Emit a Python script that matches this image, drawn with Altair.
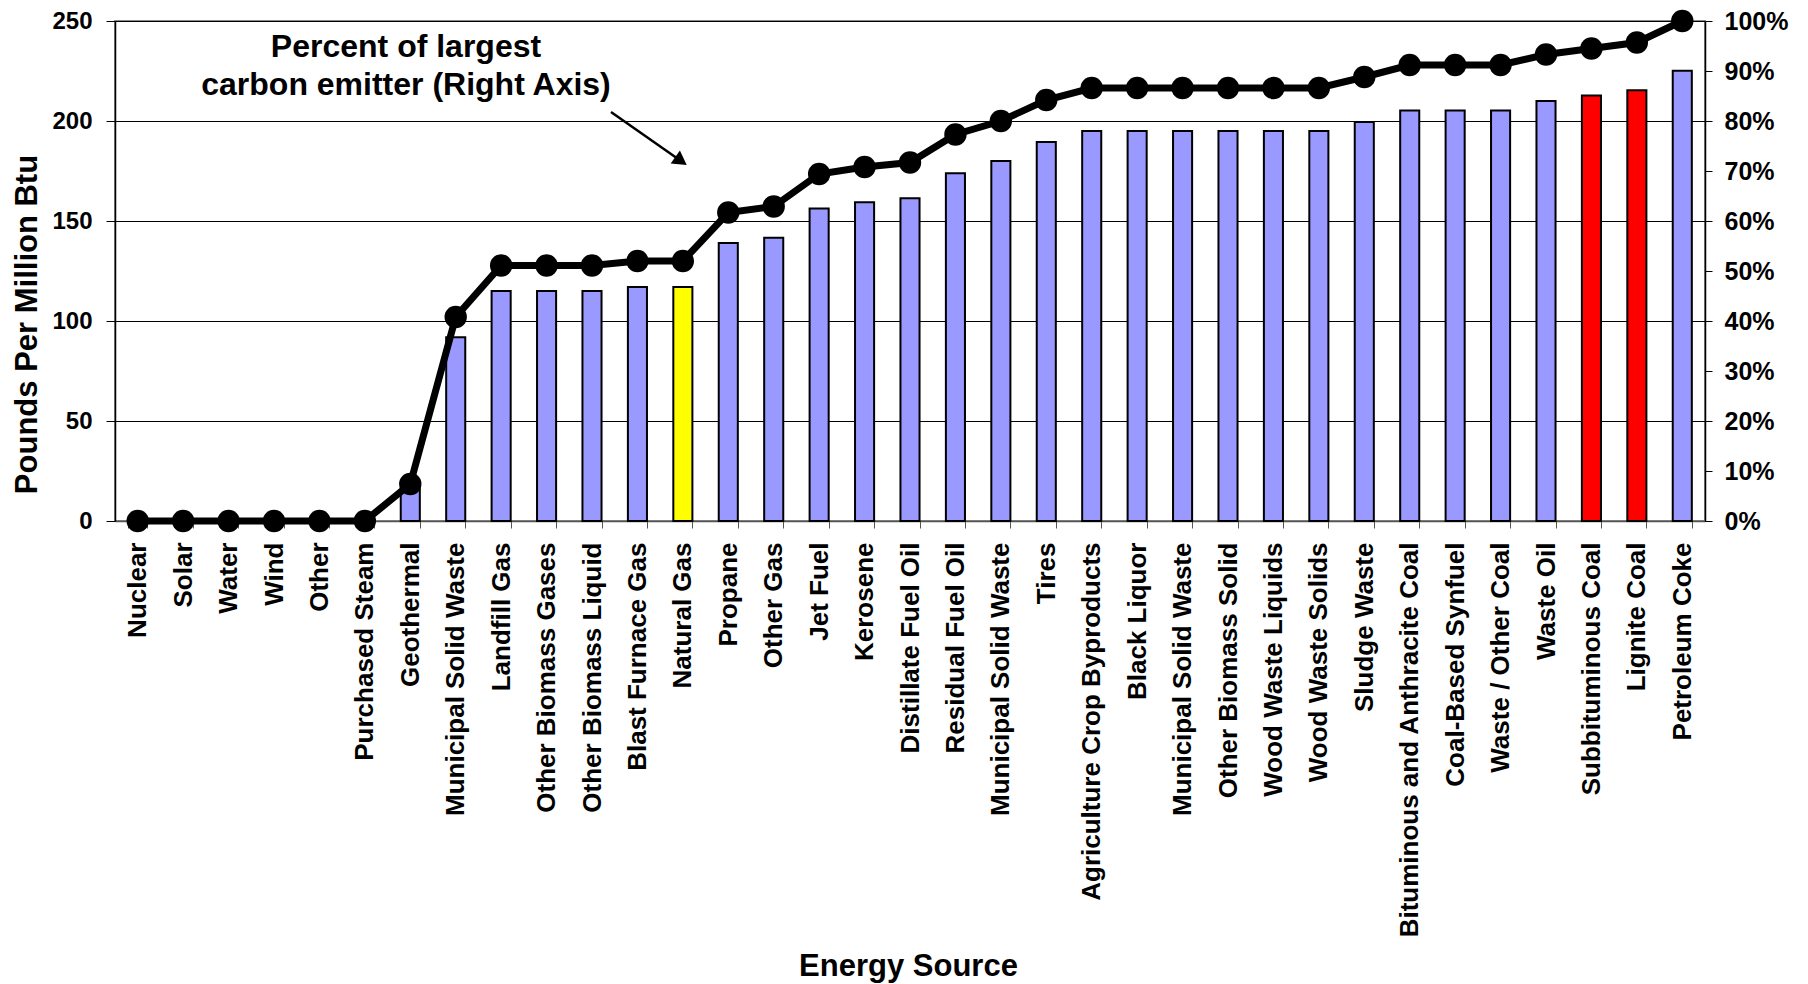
import altair as alt
import pandas as pd

# Energy sources, in order of increasing CO2 emission factor
sources = [
    "Nuclear", "Solar", "Water", "Wind", "Other", "Purchased Steam",
    "Geothermal", "Municipal Solid Waste", "Landfill Gas", "Other Biomass Gases",
    "Other Biomass Liquid", "Blast Furnace Gas", "Natural Gas", "Propane",
    "Other Gas", "Jet Fuel", "Kerosene", "Distillate Fuel Oil", "Residual Fuel Oil",
    "Municipal Solid Waste", "Tires", "Agriculture Crop Byproducts", "Black Liquor",
    "Municipal Solid Waste", "Other Biomass Solid", "Wood Waste Liquids",
    "Wood Waste Solids", "Sludge Waste", "Bituminous and Anthracite Coal",
    "Coal-Based Synfuel", "Waste / Other Coal", "Waste Oil", "Subbituminous Coal",
    "Lignite Coal", "Petroleum Coke",
]

# Pounds of CO2 per million Btu (left axis)
pounds_per_mmbtu = [
    0, 0, 0, 0, 0, 0,
    16.6, 91.9, 115.0, 115.0,
    115.0, 117.0, 117.0, 139.0,
    141.6, 156.3, 159.4, 161.4, 173.9,
    180.0, 189.5, 195.0, 195.0,
    195.0, 195.0, 195.0,
    195.0, 199.5, 205.3,
    205.3, 205.3, 210.0, 212.7,
    215.4, 225.1,
]

# Percent of the largest emitter (right axis)
pct_of_largest = [
    0, 0, 0, 0, 0, 0,
    7.4, 40.8, 51.1, 51.1,
    51.1, 52.0, 52.0, 61.7,
    62.9, 69.4, 70.8, 71.7, 77.3,
    80.0, 84.2, 86.6, 86.6,
    86.6, 86.6, 86.6,
    86.6, 88.8, 91.2,
    91.2, 91.2, 93.3, 94.5,
    95.7, 100.0,
]

gas_highlight = ["Natural Gas"]
coal_highlight = ["Subbituminous Coal", "Lignite Coal"]

df = pd.DataFrame({
    "idx": list(range(len(sources))),
    "source": sources,
    "pounds": pounds_per_mmbtu,
    "pct": pct_of_largest,
})
df["kind"] = [
    "gas" if s in gas_highlight else ("coal" if s in coal_highlight else "other")
    for s in sources
]

FONT = "Liberation Sans"
label_array = "[" + ",".join("'" + s + "'" for s in sources) + "]"

x_enc = alt.X(
    "idx:O",
    scale=alt.Scale(paddingInner=0.58, paddingOuter=0.29),
    axis=alt.Axis(
        title="Energy Source",
        labelExpr=label_array + "[datum.value]",
        labelAngle=270,
        labelAlign="right",
        labelBaseline="middle",
        labelFont=FONT,
        labelFontSize=26,
        labelFontWeight="bold",
        labelColor="black",
        labelLimit=600,
        labelOverlap=False,
        labelPadding=14,
        tickBand="extent",
        tickSize=7,
        tickColor="#555555",
        domainColor="#555555",
        domainWidth=1.5,
        grid=False,
        titleFont=FONT,
        titleFontSize=31,
        titleFontWeight="bold",
        titleColor="black",
        titleX=793,
        titleY=454,
        titleAlign="center",
        titleBaseline="alphabetic",
    ),
)

bars = alt.Chart(df).mark_bar(stroke="black", strokeWidth=2).encode(
    x=x_enc,
    y=alt.Y(
        "pounds:Q",
        scale=alt.Scale(domain=[0, 250], nice=False),
        axis=alt.Axis(
            title="Pounds Per Million Btu",
            values=[0, 50, 100, 150, 200, 250],
            grid=True,
            gridColor="black",
            gridWidth=1,
            tickSize=9,
            tickColor="black",
            domainColor="black",
            domainWidth=1.5,
            labelFont=FONT,
            labelFontSize=24,
            labelFontWeight="bold",
            labelColor="black",
            labelPadding=14,
            titleFont=FONT,
            titleFontSize=31,
            titleFontWeight="bold",
            titleColor="black",
            titleAngle=270,
            titleX=-88,
            titleY=303,
            titleAlign="center",
            titleBaseline="middle",
        ),
    ),
    color=alt.Color(
        "kind:N",
        scale=alt.Scale(domain=["other", "gas", "coal"],
                        range=["#9999FF", "#FFFF00", "#FF0000"]),
        legend=None,
    ),
)

line = alt.Chart(df).mark_line(
    color="black", strokeWidth=7,
    point=alt.OverlayMarkDef(filled=True, color="black", size=500, opacity=1),
).encode(
    x=x_enc,
    y=alt.Y(
        "pct:Q",
        scale=alt.Scale(domain=[0, 100], nice=False),
        axis=alt.Axis(
            orient="right",
            title=None,
            values=list(range(0, 101, 10)),
            labelExpr="datum.value + '%'",
            grid=False,
            tickSize=7,
            tickColor="black",
            domainColor="black",
            domainWidth=1.5,
            labelFont=FONT,
            labelFontSize=25,
            labelFontWeight="bold",
            labelColor="black",
            labelPadding=12,
        ),
    ),
)

one_row = pd.DataFrame({"k": [0]})

note = alt.Chart(one_row).mark_text(
    font=FONT, fontSize=32, fontWeight="bold", color="black",
    align="center", baseline="alphabetic", lineHeight=38,
).encode(
    x=alt.value(291),
    y=alt.value(36),
    text=alt.value(["Percent of largest", "carbon emitter (Right Axis)"]),
)

arrow_shaft = alt.Chart(one_row).mark_rule(color="black", strokeWidth=2.5).encode(
    x=alt.value(496), x2=alt.value(566),
    y=alt.value(91), y2=alt.value(140),
)

arrow_head = alt.Chart(one_row).mark_point(
    shape="triangle-right", filled=True, color="black", opacity=1,
    size=260, angle=35,
).encode(
    x=alt.value(566),
    y=alt.value(140),
)

chart = alt.layer(bars, line, note, arrow_shaft, arrow_head).resolve_scale(
    y="independent"
).properties(
    width=1590,
    height=500,
    autosize=alt.AutoSizeParams(type="none"),
    padding={"left": 115, "top": 21, "right": 103, "bottom": 463},
    background="white",
).configure_view(
    stroke="#888888",
    strokeWidth=2,
)

chart.save("out.html", embed_options={"renderer": "svg", "actions": False})
